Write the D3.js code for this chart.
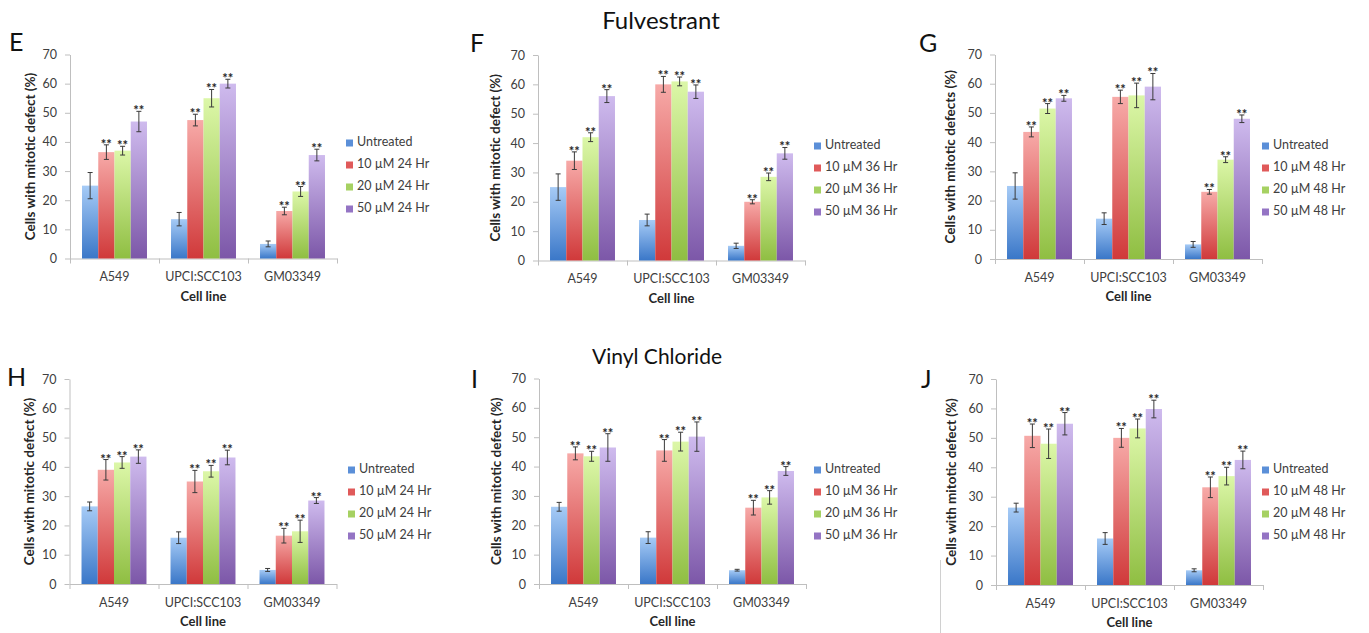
<!DOCTYPE html>
<html>
<head>
<meta charset="utf-8">
<script src="https://cdn.jsdelivr.net/npm/d3@7"></script>
<style>
body { margin: 0; background: #fff; }
text { font-family: Lato, "Open Sans", sans-serif; }
</style>
</head>
<body>
<svg id="chart" width="1369" height="633"></svg>
<script>
// categories + legends
const categories = ["A549", "UPCI:SCC103", "GM03349"];
const legend24 = ["Untreated", "10 µM 24 Hr", "20 µM 24 Hr", "50 µM 24 Hr"];
const legend36 = ["Untreated", "10 µM 36 Hr", "20 µM 36 Hr", "50 µM 36 Hr"];
const legend48 = ["Untreated", "10 µM 48 Hr", "20 µM 48 Hr", "50 µM 48 Hr"];
const yTicks = [0, 10, 20, 30, 40, 50, 60, 70];
const starred = [false, true, true, true];

// Fulvestrant (rows = cell line, cols = untreated/10/20/50)
const valuesE = [[25, 36.5, 37, 47], [13.5, 47.5, 55, 60], [5, 16.3, 23, 35.5]];
const errorsE = [[4.5, 2.5, 1.5, 3.5], [2.3, 2, 3, 1.5], [1, 1.3, 1.7, 2]];
const valuesF = [[25, 34, 42, 56], [13.8, 60, 61, 57.5], [5, 20, 28.5, 36.5]];
const errorsF = [[4.5, 3, 1.5, 2.2], [2, 2.7, 1.5, 2.3], [0.9, 0.7, 1.3, 2]];
const valuesG = [[25, 43.5, 51.5, 55], [13.8, 55.5, 56, 59], [5, 23, 34, 48]];
const errorsG = [[4.5, 1.7, 1.7, 1], [2, 2.3, 4.2, 4.5], [1, 0.8, 1, 1.3]];
// Vinyl chloride
const valuesH = [[26.5, 39, 41.5, 43.5], [15.8, 35, 38.5, 43.2], [4.8, 16.5, 18, 28.5]];
const errorsH = [[1.5, 3.5, 2, 2.3], [2, 3.8, 2, 2.5], [0.5, 2.5, 3.8, 1]];
const valuesI = [[26.3, 44.5, 43.5, 46.5], [15.8, 45.5, 48.5, 50.2], [4.7, 26, 29.5, 38.5]];
const errorsI = [[1.5, 2.2, 1.7, 4.7], [2, 3.7, 3.2, 5], [0.3, 2.5, 2.3, 1.5]];
const valuesJ = [[26.3, 50.7, 48, 54.8], [15.8, 50, 53.2, 59.8], [5, 33.2, 37, 42.5]];
const errorsJ = [[1.5, 4, 5, 3.8], [2, 3.2, 3.2, 3], [0.5, 3.5, 3, 3]];

const colorsTop = ["#a6cbf6", "#f7aaa8", "#dcf7a8", "#cfbbee"];
const colorsBottom = ["#3a77c8", "#d0393a", "#8fbe42", "#7c57a8"];
const colorsLegend = ["#5b8fd8", "#e05a5a", "#a6d162", "#9474c4"];

const defLabel = "Cells with mitotic defect (%)";

const panels = [
  {letter: "E", x0: 70, top: 54.5, bottom: 258.5, vals: valuesE, errs: errorsE, legend: legend24, ylabel: defLabel, lx: 346, ly: 143, ylx: 32, letX: 9, letY: 51},
  {letter: "F", x0: 538, top: 55, bottom: 260.5, vals: valuesF, errs: errorsF, legend: legend36, ylabel: defLabel, lx: 814, ly: 146, ylx: 497, letX: 470, letY: 52},
  {letter: "G", x0: 995, top: 54.5, bottom: 259, vals: valuesG, errs: errorsG, legend: legend48, ylabel: "Cells with mitotic defects (%)", lx: 1262, ly: 146, ylx: 952, letX: 919, letY: 52},
  {letter: "H", x0: 69.5, top: 379, bottom: 584, vals: valuesH, errs: errorsH, legend: legend24, ylabel: defLabel, lx: 348, ly: 470, ylx: 31, letX: 7, letY: 386},
  {letter: "I", x0: 539, top: 378.5, bottom: 584, vals: valuesI, errs: errorsI, legend: legend36, ylabel: defLabel, lx: 814, ly: 470, ylx: 498, letX: 471, letY: 388},
  {letter: "J", x0: 996, top: 379, bottom: 585, vals: valuesJ, errs: errorsJ, legend: legend48, ylabel: defLabel, lx: 1262, ly: 470, ylx: 953, letX: 921, letY: 388}
];

const svg = d3.select("#chart");
const defs = svg.append("defs");
colorsTop.forEach(function(c, i) {
  let g = defs.append("linearGradient")
    .attr("id", "grad" + i)
    .attr("x1", 0).attr("y1", 0).attr("x2", 0).attr("y2", 1);
  g.append("stop").attr("offset", "0%").attr("stop-color", c);
  g.append("stop").attr("offset", "100%").attr("stop-color", colorsBottom[i]);
});

const plotWidth = 267;
const axisColor = "#bfbfbf";
const textColor = "#404040";

function drawPanel(p) {
  let g = svg.append("g");

  let y = d3.scaleLinear().domain([0, 70]).range([p.bottom, p.top]);
  let x = d3.scaleBand().domain(categories)
    .range([p.x0, p.x0 + plotWidth])
    .paddingInner(0.27).paddingOuter(0.135);
  let xb = d3.scaleLinear().domain([0, 3]).range([p.x0, p.x0 + plotWidth]);

  // y axis
  let yAxis = g.append("g")
    .attr("transform", "translate(" + p.x0 + ",0)")
    .call(d3.axisLeft(y).tickValues(yTicks).tickSize(5).tickPadding(8).tickSizeOuter(0));
  yAxis.select(".domain").attr("stroke", axisColor);
  yAxis.selectAll(".tick line").attr("stroke", axisColor);
  yAxis.selectAll(".tick text").attr("fill", textColor).style("font-size", "12.5px").style("font-family", "Lato, sans-serif");

  // x axis: boundary ticks + category labels
  let xAxis = g.append("g")
    .attr("transform", "translate(0," + p.bottom + ")")
    .call(d3.axisBottom(xb).tickValues([0, 1, 2, 3]).tickSize(5).tickFormat("").tickSizeOuter(0));
  xAxis.select(".domain").attr("stroke", axisColor);
  xAxis.selectAll(".tick line").attr("stroke", axisColor);

  let xLab = g.append("g")
    .attr("transform", "translate(0," + p.bottom + ")")
    .call(d3.axisBottom(x).tickSize(0).tickPadding(14));
  xLab.select(".domain").remove();
  xLab.selectAll(".tick text").attr("fill", textColor).style("font-size", "12.5px").style("font-family", "Lato, sans-serif");

  g.append("text")
    .attr("x", p.x0 + plotWidth / 2)
    .attr("y", p.bottom + 42)
    .attr("text-anchor", "middle")
    .attr("fill", "#262626")
    .style("font-size", "13px")
    .style("font-weight", "bold")
    .text("Cell line");

  g.append("text")
    .attr("transform", "translate(" + p.ylx + "," + ((p.top + p.bottom) / 2) + ") rotate(-90)")
    .attr("text-anchor", "middle")
    .attr("dominant-baseline", "middle")
    .attr("fill", "#262626")
    .style("font-size", "13.5px")
    .style("font-weight", "bold")
    .text(p.ylabel);

  // bars
  let bw = x.bandwidth() / 4;
  categories.forEach(function(cat, ci) {
    let grp = g.append("g");
    grp.selectAll("rect")
      .data(p.vals[ci])
      .enter()
      .append("rect")
      .attr("x", (d, i) => x(cat) + i * bw)
      .attr("y", d => y(d))
      .attr("width", bw)
      .attr("height", d => y(0) - y(d))
      .attr("fill", (d, i) => "url(#grad" + i + ")");

    p.vals[ci].forEach(function(v, i) {
      let e = p.errs[ci][i];
      let cx = x(cat) + i * bw + bw / 2;
      grp.append("line")
        .attr("x1", cx).attr("x2", cx)
        .attr("y1", y(v - e)).attr("y2", y(v + e))
        .attr("stroke", "#3a3a3a").attr("stroke-width", 1);
      [v - e, v + e].forEach(function(t) {
        grp.append("line")
          .attr("x1", cx - 2.5).attr("x2", cx + 2.5)
          .attr("y1", y(t)).attr("y2", y(t))
          .attr("stroke", "#3a3a3a").attr("stroke-width", 1);
      });
      if (starred[i]) {
        grp.append("text")
          .attr("x", cx)
          .attr("y", y(v + e) + 4)
          .attr("text-anchor", "middle")
          .attr("fill", "#262626")
          .style("font-size", "13px")
          .style("font-weight", "bold")
          .text("**");
      }
    });
  });

  // legend
  let lg = g.append("g").attr("transform", "translate(" + p.lx + "," + p.ly + ")");
  p.legend.forEach(function(name, i) {
    lg.append("rect")
      .attr("x", 0).attr("y", i * 22 - 3.5)
      .attr("width", 7).attr("height", 7)
      .attr("fill", colorsLegend[i]);
    lg.append("text")
      .attr("x", 11).attr("y", i * 22)
      .attr("dominant-baseline", "middle")
      .attr("fill", textColor)
      .style("font-size", "12.5px")
      .text(name);
  });

  // panel letter
  g.append("text")
    .attr("x", p.letX).attr("y", p.letY)
    .attr("fill", "#111")
    .style("font-size", "25px")
    .text(p.letter);
}

panels.forEach(drawPanel);

svg.append("text")
  .attr("x", 661).attr("y", 29)
  .attr("text-anchor", "middle")
  .attr("fill", "#111")
  .style("font-size", "24px")
  .text("Fulvestrant");

svg.append("text")
  .attr("x", 657).attr("y", 364)
  .attr("text-anchor", "middle")
  .attr("fill", "#111")
  .style("font-size", "21px")
  .text("Vinyl Chloride");

// faint frame edge at lower right
svg.append("line")
  .attr("x1", 940.5).attr("x2", 940.5)
  .attr("y1", 560).attr("y2", 633)
  .attr("stroke", "#d0d0d0");
</script>
</body>
</html>
